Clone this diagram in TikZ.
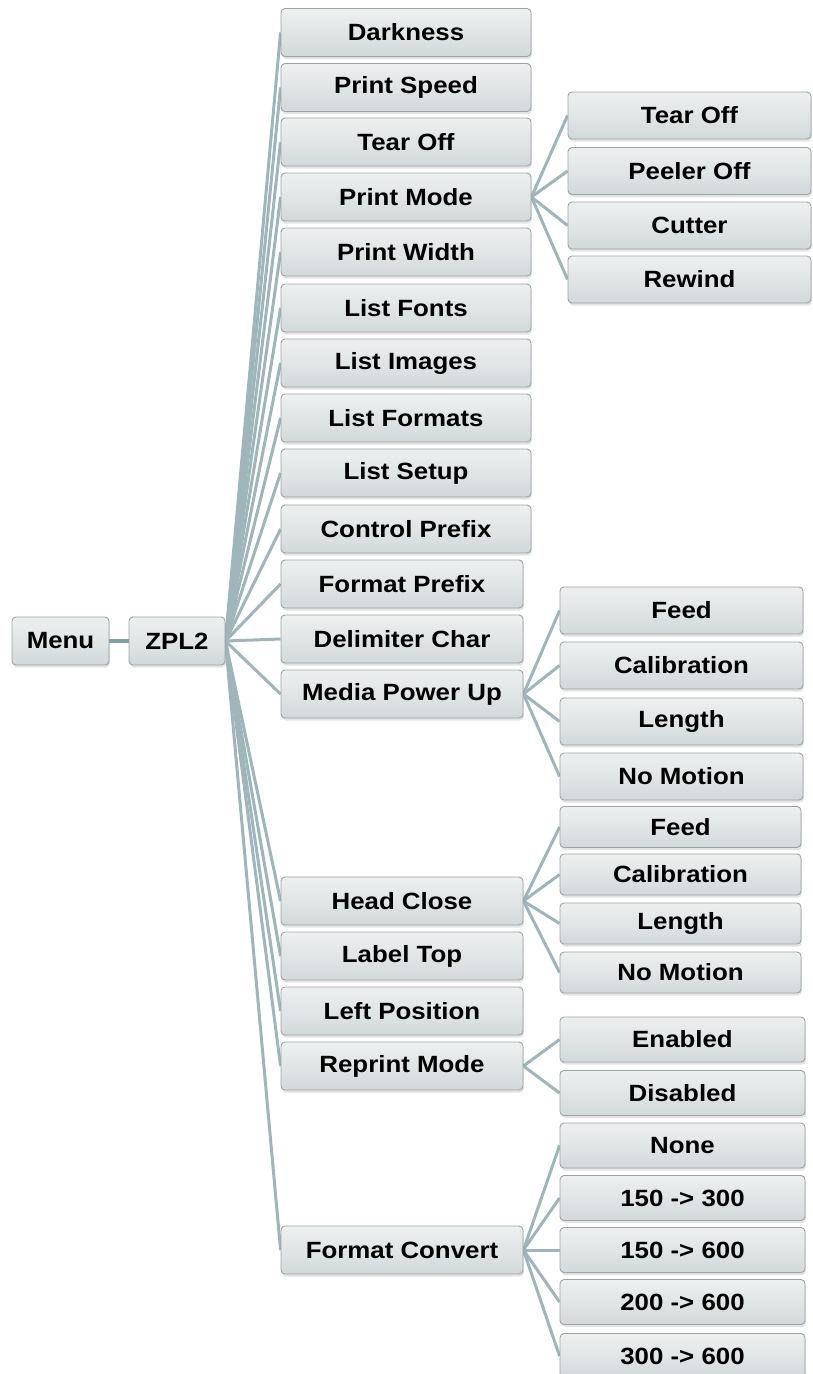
\documentclass[tikz,border=0pt]{standalone}
\usepackage{fontspec}
\setmainfont{Liberation Sans}[FakeStretch=1.1]
\usetikzlibrary{shadows,backgrounds}
\definecolor{boxtop}{HTML}{EEF0F0}
\definecolor{boxbot}{HTML}{D2D9DB}
\definecolor{boxline}{HTML}{9AA3A5}
\definecolor{conn}{HTML}{9EB5B9}
\definecolor{conndark}{HTML}{7FA1A6}
\tikzset{
  mbox/.style={rectangle, rounded corners=4pt, draw=boxline, line width=0.9pt,
    top color=boxtop, bottom color=boxbot, inner sep=0pt,
    font=\bfseries\fontsize{23.5}{26}\selectfont, text=black,
    drop shadow={opacity=0.22, shadow xshift=1pt, shadow yshift=-2.5pt}},
  lvA/.style={mbox, minimum width=250pt, minimum height=48pt},
  lvB/.style={mbox, minimum width=242pt, minimum height=48pt},
  kidA/.style={mbox, minimum width=243pt, minimum height=47pt},
  kidB/.style={mbox, minimum width=241pt, minimum height=41pt},
  kidC/.style={mbox, minimum width=245pt, minimum height=45pt},
  link/.style={draw=conn, line width=3pt},
  rootlink/.style={draw=conndark, line width=4pt}
}
\begin{document}
\begin{tikzpicture}[x=1pt,y=-1pt]
\useasboundingbox (0,0) rectangle (813,1374);
% root
\node[mbox, minimum width=97pt, minimum height=48pt] (menu) at (60.5,641) {Menu};
\node[mbox, minimum width=96pt, minimum height=48pt] (zpl) at (177,641) {ZPL2};
% level 2
\node[lvA] (dark) at (406,32.5) {Darkness};
\node[lvA] (speed) at (406,87.5) {Print Speed};
\node[lvA] (tear) at (406,142) {Tear Off};
\node[lvA] (pmode) at (406,197) {Print Mode};
\node[lvA] (pwidth) at (406,252) {Print Width};
\node[lvA] (lfonts) at (406,308) {List Fonts};
\node[lvA] (limages) at (406,363) {List Images};
\node[lvA] (lformats) at (406,418) {List Formats};
\node[lvA] (lsetup) at (406,473) {List Setup};
\node[lvA] (cprefix) at (406,529) {Control Prefix};
\node[lvB] (fprefix) at (402,584) {Format Prefix};
\node[lvB] (delim) at (402,639) {Delimiter Char};
\node[lvB] (media) at (402,694) {Media Power Up};
\node[lvB] (head) at (402,901) {Head Close};
\node[lvB] (ltop) at (402,956) {Label Top};
\node[lvB] (lpos) at (402,1011) {Left Position};
\node[lvB] (reprint) at (402,1066) {Reprint Mode};
\node[lvB] (fconv) at (402,1250) {Format Convert};
% print mode kids
\node[kidA] (pm1) at (689.5,115.5) {Tear Off};
\node[kidA] (pm2) at (689.5,171) {Peeler Off};
\node[kidA] (pm3) at (689.5,225.5) {Cutter};
\node[kidA] (pm4) at (689.5,279.5) {Rewind};
% media kids
\node[kidA] (mp1) at (681.5,610.5) {Feed};
\node[kidA] (mp2) at (681.5,665.5) {Calibration};
\node[kidA] (mp3) at (681.5,721.5) {Length};
\node[kidA] (mp4) at (681.5,776.5) {No Motion};
% head close kids
\node[kidB] (hc1) at (680.5,827) {Feed};
\node[kidB] (hc2) at (680.5,874.5) {Calibration};
\node[kidB] (hc3) at (680.5,923.5) {Length};
\node[kidB] (hc4) at (680.5,972.5) {No Motion};
% reprint kids
\node[kidC] (rp1) at (682.5,1039.5) {Enabled};
\node[kidC] (rp2) at (682.5,1093) {Disabled};
% format convert kids
\node[kidC] (fc1) at (682.5,1145.5) {None};
\node[kidC] (fc2) at (682.5,1198) {150 -> 300};
\node[kidC] (fc3) at (682.5,1250) {150 -> 600};
\node[kidC] (fc4) at (682.5,1302) {200 -> 600};
\node[kidC] (fc5) at (682.5,1356) {300 -> 600};
% connectors
\begin{pgfonlayer}{background}
\draw[rootlink] (menu.east) -- (zpl.west);
\foreach \c in {dark,speed,tear,pmode,pwidth,lfonts,limages,lformats,lsetup,cprefix,fprefix,delim,media,head,ltop,lpos,reprint,fconv}
  \draw[link] (zpl.east) -- (\c.west);
\foreach \c in {pm1,pm2,pm3,pm4} \draw[link] (pmode.east) -- (\c.west);
\foreach \c in {mp1,mp2,mp3,mp4} \draw[link] (media.east) -- (\c.west);
\foreach \c in {hc1,hc2,hc3,hc4} \draw[link] (head.east) -- (\c.west);
\foreach \c in {rp1,rp2} \draw[link] (reprint.east) -- (\c.west);
\foreach \c in {fc1,fc2,fc3,fc4,fc5} \draw[link] (fconv.east) -- (\c.west);
\end{pgfonlayer}
\end{tikzpicture}
\end{document}
